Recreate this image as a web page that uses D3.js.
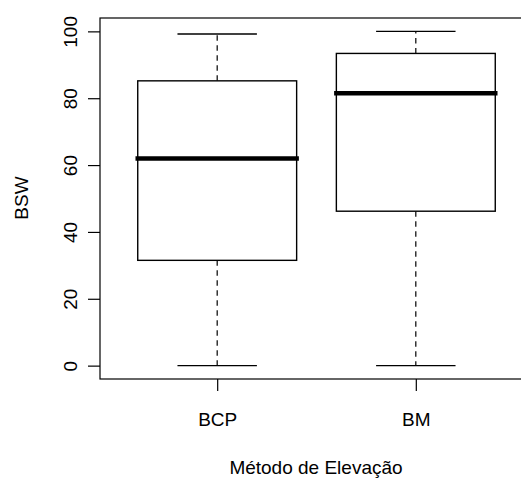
<!DOCTYPE html>
<html>
<head>
<meta charset="utf-8">
<script src="https://cdn.jsdelivr.net/npm/d3@7"></script>
<style>
  html, body { margin: 0; padding: 0; background: #fff; }
  svg { display: block; }
  text { font-family: "Liberation Sans", Arial, Helvetica, sans-serif; fill: #000; }
</style>
</head>
<body>
<svg id="chart" width="521" height="478"></svg>
<script>
// Boxplot of BSW by lift method
const categories = ["BCP", "BM"];
const whiskerLow  = [0, 0];
const q1          = [31.5, 46.2];
const median      = [62, 81.5];
const q3          = [85.2, 93.4];
const whiskerHigh = [99.2, 100];
const yTicks = [0, 20, 40, 60, 80, 100];
const xTitle = "Método de Elevação";
const yTitle = "BSW";

const W = 521, H = 478;
const plot = { left: 100, top: 18, right: 533, bottom: 379 };
const fontSize = 19;

const svg = d3.select("#chart");

const x = d3.scalePoint()
  .domain(categories)
  .range([plot.left, plot.right])
  .padding(0.59);
const step = x.step();
const boxW = step * 0.8;
const capW = boxW / 2;

const y = d3.scaleLinear()
  .domain([-4, 104])
  .range([plot.bottom, plot.top]);

const data = categories.map((c, i) => ({
  cat: c, lo: whiskerLow[i], q1: q1[i], med: median[i], q3: q3[i], hi: whiskerHigh[i]
}));

const g = svg.append("g");

// whiskers (dashed)
g.selectAll(".whisk-lo").data(data).join("line")
  .attr("x1", d => x(d.cat)).attr("x2", d => x(d.cat))
  .attr("y1", d => y(d.q1)).attr("y2", d => y(d.lo))
  .attr("stroke", "#000").attr("stroke-width", 1.2)
  .attr("stroke-dasharray", "5.5,4.5");
g.selectAll(".whisk-hi").data(data).join("line")
  .attr("x1", d => x(d.cat)).attr("x2", d => x(d.cat))
  .attr("y1", d => y(d.q3)).attr("y2", d => y(d.hi))
  .attr("stroke", "#000").attr("stroke-width", 1.2)
  .attr("stroke-dasharray", "5.5,4.5");

// whisker caps
["lo", "hi"].forEach(k => {
  g.selectAll(".cap-" + k).data(data).join("line")
    .attr("x1", d => x(d.cat) - capW / 2).attr("x2", d => x(d.cat) + capW / 2)
    .attr("y1", d => y(d[k])).attr("y2", d => y(d[k]))
    .attr("stroke", "#000").attr("stroke-width", 1.4);
});

// boxes
g.selectAll(".box").data(data).join("rect")
  .attr("x", d => x(d.cat) - boxW / 2)
  .attr("width", boxW)
  .attr("y", d => y(d.q3))
  .attr("height", d => y(d.q1) - y(d.q3))
  .attr("fill", "#fff")
  .attr("stroke", "#000").attr("stroke-width", 1.4);

// medians
g.selectAll(".med").data(data).join("line")
  .attr("x1", d => x(d.cat) - boxW / 2).attr("x2", d => x(d.cat) + boxW / 2)
  .attr("y1", d => y(d.med)).attr("y2", d => y(d.med))
  .attr("stroke", "#000").attr("stroke-width", 4.5)
  .attr("stroke-linecap", "square");

// plot frame
svg.append("rect")
  .attr("x", plot.left).attr("y", plot.top)
  .attr("width", plot.right - plot.left).attr("height", plot.bottom - plot.top)
  .attr("fill", "none").attr("stroke", "#000").attr("stroke-width", 1.2);

// y axis
const yAxis = svg.append("g")
  .attr("transform", `translate(${plot.left},0)`)
  .call(d3.axisLeft(y).tickValues(yTicks).tickSize(12).tickFormat(d3.format("d")));
yAxis.select(".domain").remove();
yAxis.selectAll(".tick line").attr("stroke", "#000").attr("stroke-width", 1.2);
yAxis.selectAll(".tick text")
  .attr("x", null).attr("dy", null)
  .attr("text-anchor", "middle")
  .attr("font-size", fontSize)
  .attr("font-family", null)
  .attr("transform", "translate(-23.5,0) rotate(-90)");

// x axis
const xAxis = svg.append("g")
  .attr("transform", `translate(0,${plot.bottom})`)
  .call(d3.axisBottom(x).tickSize(12));
xAxis.select(".domain").remove();
xAxis.selectAll(".tick line").attr("stroke", "#000").attr("stroke-width", 1.2);
xAxis.selectAll(".tick text")
  .attr("y", 47).attr("dy", null)
  .attr("text-anchor", "middle")
  .attr("font-size", fontSize)
  .attr("font-family", null);

// axis titles
svg.append("text")
  .attr("x", 316).attr("y", 474)
  .attr("text-anchor", "middle")
  .attr("font-size", fontSize)
  .text(xTitle);

svg.append("text")
  .attr("transform", `translate(27.5,198) rotate(-90)`)
  .attr("text-anchor", "middle")
  .attr("font-size", fontSize)
  .text(yTitle);
</script>
</body>
</html>
